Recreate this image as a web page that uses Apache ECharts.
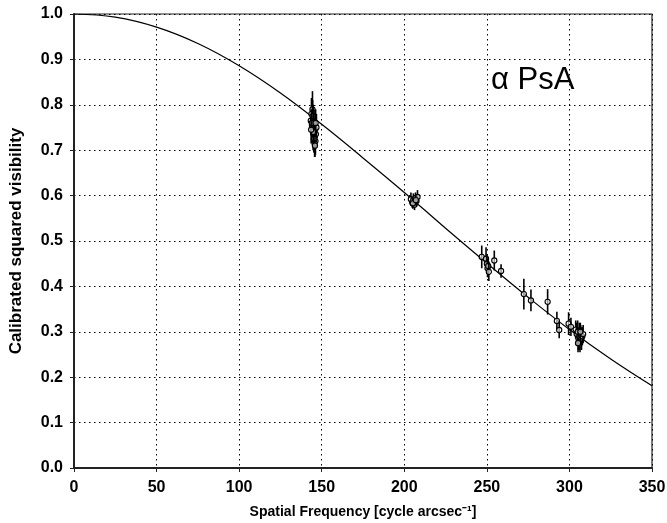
<!DOCTYPE html>
<html>
<head>
<meta charset="utf-8">
<script src="https://cdn.jsdelivr.net/npm/echarts@6/dist/echarts.min.js"></script>
<style>html,body{margin:0;padding:0;background:#fff}#c{width:667px;height:523px}</style>
</head>
<body>
<div id="c"></div>
<script>
// Model curve
var curveFreq = [0, 25, 50, 75, 100, 125, 150, 175, 200, 225, 250, 275, 300, 325, 350];
var curveVis  = [1.0, 0.993, 0.971, 0.935, 0.886, 0.826, 0.757, 0.683, 0.607, 0.528, 0.451, 0.376, 0.305, 0.240, 0.181];

// Measurements: spatial frequency, squared visibility, 1-sigma error
var obsFreq = [143.4, 143.8, 144.1, 144.4, 144.6, 144.8, 145.0, 145.1, 145.3, 145.4,
               145.6, 145.8, 146.0, 146.2, 146.5, 144.5, 145.2, 145.7, 144.0, 146.8,
               145.5, 144.9, 146.3, 143.6, 145.9,
               204.0, 204.8, 205.5, 206.2, 206.8, 207.4, 208.0, 205.2, 207.0,
               246.9, 249.5, 250.0, 250.4, 250.8, 251.2, 254.5, 258.6,
               272.4, 276.7, 286.8, 292.4, 293.8, 299.5, 300.9,
               303.8, 304.4, 305.0, 305.5, 306.0, 306.4, 306.8, 307.3, 307.8, 308.3, 305.2, 306.6];
var obsVis  = [0.765, 0.780, 0.755, 0.790, 0.745, 0.770, 0.735, 0.760, 0.725, 0.750,
               0.740, 0.730, 0.745, 0.720, 0.735, 0.775, 0.755, 0.715, 0.760, 0.750,
               0.725, 0.740, 0.760, 0.745, 0.710,
               0.592, 0.585, 0.590, 0.580, 0.595, 0.588, 0.597, 0.583, 0.590,
               0.465, 0.461, 0.450, 0.440, 0.445, 0.432, 0.457, 0.434,
               0.383, 0.369, 0.366, 0.324, 0.304, 0.318, 0.311,
               0.305, 0.295, 0.300, 0.285, 0.290, 0.280, 0.295, 0.285, 0.290, 0.295, 0.275, 0.300];
var obsErr  = [0.030, 0.035, 0.030, 0.040, 0.030, 0.030, 0.035, 0.030, 0.030, 0.030,
               0.030, 0.035, 0.030, 0.030, 0.030, 0.035, 0.030, 0.030, 0.030, 0.030,
               0.030, 0.040, 0.030, 0.030, 0.025,
               0.015, 0.012, 0.015, 0.012, 0.012, 0.012, 0.015, 0.012, 0.012,
               0.025, 0.025, 0.020, 0.020, 0.020, 0.020, 0.022, 0.015,
               0.034, 0.024, 0.028, 0.020, 0.018, 0.025, 0.020,
               0.020, 0.025, 0.025, 0.025, 0.030, 0.025, 0.020, 0.025, 0.020, 0.020, 0.020, 0.020];

var xTicks = [0, 50, 100, 150, 200, 250, 300, 350];
var yTicks = [0.0, 0.1, 0.2, 0.3, 0.4, 0.5, 0.6, 0.7, 0.8, 0.9, 1.0];

var curveData = curveFreq.map(function (f, i) { return [f, curveVis[i]]; });
var obsData = obsFreq.map(function (f, i) { return [f, obsVis[i], obsErr[i]]; });

var chart = echarts.init(document.getElementById('c'), null, {renderer: 'canvas'});
var font = '"Liberation Sans", Arial, Helvetica, sans-serif';
chart.setOption({
  animation: false,
  backgroundColor: '#ffffff',
  textStyle: {fontFamily: font},
  title: {
    text: 'α PsA', left: 486, top: 60,
    textStyle: {fontFamily: font, fontSize: 31, fontWeight: 'normal', color: '#000'}
  },
  grid: {left: 74, right: 15, top: 14, bottom: 55, show: true, borderColor: '#222', borderWidth: 1.2,
         backgroundColor: 'transparent', containLabel: false, outerBoundsMode: 'none'},
  xAxis: {
    type: 'value', min: 0, max: 350, interval: 50,
    name: 'Spatial Frequency [cycle arcsec⁻¹]', nameLocation: 'middle', nameGap: 37,
    nameTextStyle: {fontFamily: font, fontSize: 14, fontWeight: 'bold', color: '#000'},
    axisLine: {show: true, lineStyle: {color: '#222', width: 2}},
    axisTick: {show: true, length: 4, inside: false, lineStyle: {color: '#222'}},
    axisLabel: {fontFamily: font, fontSize: 16, fontWeight: 'bold', color: '#000', margin: 12,
      formatter: function (v) { return xTicks.indexOf(v) >= 0 ? String(v) : ''; }},
    splitLine: {show: true, lineStyle: {color: '#000', type: [1.5, 3.5], width: 1}}
  },
  yAxis: {
    type: 'value', min: 0, max: 1.0, interval: 0.1,
    name: 'Calibrated squared visibility', nameLocation: 'middle', nameGap: 49,
    nameTextStyle: {fontFamily: font, fontSize: 17, fontWeight: 'bold', color: '#000'},
    axisLine: {show: true, lineStyle: {color: '#222', width: 2}},
    axisTick: {show: true, length: 4, lineStyle: {color: '#222'}},
    axisLabel: {fontFamily: font, fontSize: 16, fontWeight: 'bold', color: '#000', margin: 11,
      formatter: function (v) {
        for (var i = 0; i < yTicks.length; i++) if (Math.abs(yTicks[i] - v) < 1e-9) return yTicks[i].toFixed(1);
        return '';
      }},
    splitLine: {show: true, lineStyle: {color: '#000', type: [1.5, 3.5], width: 1}}
  },
  series: [
    {
      type: 'line', data: curveData, smooth: 0.4, symbol: 'none',
      lineStyle: {color: '#000', width: 1.2}, z: 3
    },
    {
      type: 'custom', data: obsData, z: 4,
      encode: {x: 0, y: 1},
      renderItem: function (params, api) {
        var x = api.value(0), y = api.value(1), e = api.value(2);
        var p = api.coord([x, y]);
        var top = api.coord([x, y + e]);
        var bot = api.coord([x, y - e]);
        return {
          type: 'group',
          children: [
            {type: 'line', shape: {x1: top[0], y1: top[1], x2: bot[0], y2: bot[1]},
             style: {stroke: '#000', lineWidth: 1.6}},
            {type: 'circle', shape: {cx: p[0], cy: p[1], r: 2.6},
             style: {stroke: '#000', fill: 'rgba(255,255,255,0.6)', lineWidth: 1.1}}
          ]
        };
      }
    }
  ]
});
</script>
</body>
</html>
